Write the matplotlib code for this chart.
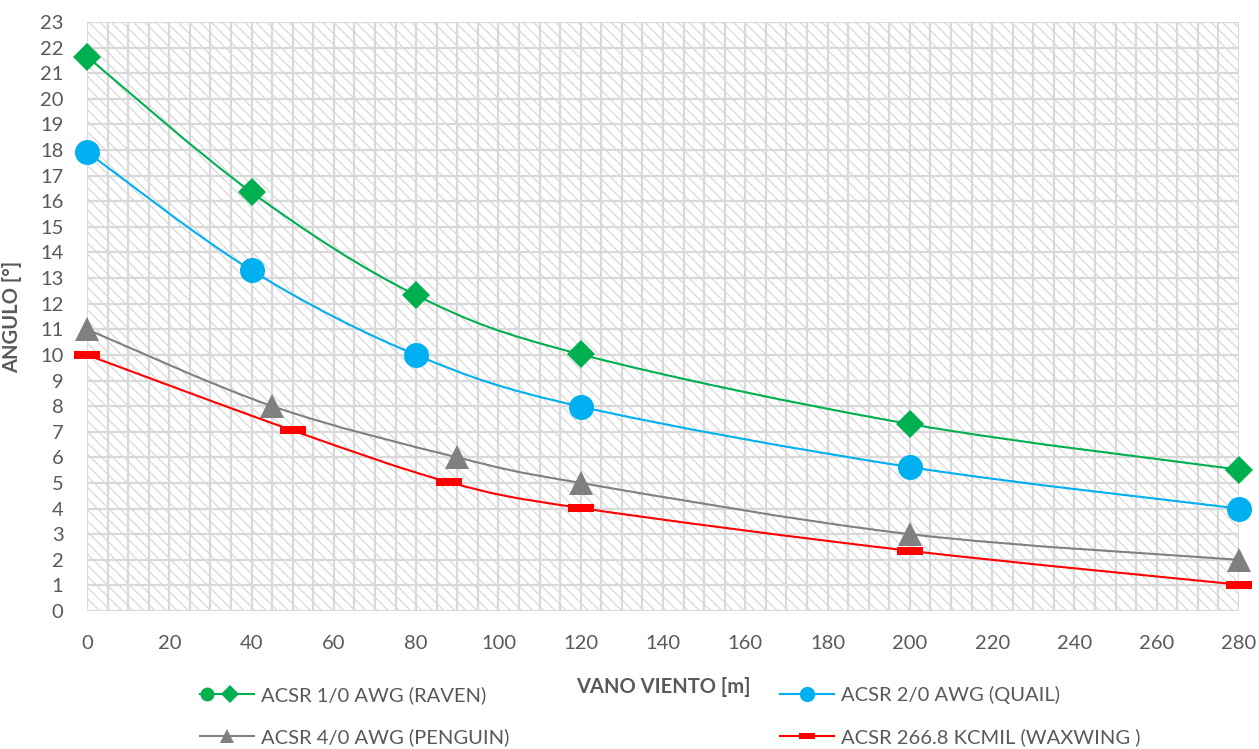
import numpy as np
import matplotlib
matplotlib.use('Agg')
from matplotlib import pyplot as plt
from matplotlib.lines import Line2D
from matplotlib.patches import Rectangle, PathPatch
from matplotlib.path import Path
from matplotlib.ticker import MultipleLocator

plt.rcParams['font.family'] = ['Lato', 'DejaVu Sans']
plt.rcParams['hatch.linewidth'] = 0.9

# data
x_raven = [0, 40, 80, 120, 200, 280]
y_raven = [21.65, 16.35, 12.33, 10.02, 7.3, 5.52]
x_quail = [0, 40, 80, 120, 200, 280]
y_quail = [17.92, 13.3, 10.0, 7.98, 5.62, 4.0]
x_penguin = [0, 45, 90, 120, 200, 280]
y_penguin = [11.0, 8.0, 6.0, 5.0, 3.0, 2.0]
x_waxwing = [0, 50, 88, 120, 200, 280]
y_waxwing = [10.0, 7.05, 5.03, 4.02, 2.35, 1.03]

labels = ['ACSR 1/0 AWG (RAVEN)', 'ACSR 2/0 AWG (QUAIL)',
          'ACSR 4/0 AWG (PENGUIN)', 'ACSR 266.8 KCMIL (WAXWING )']
colors = ['#00b050', '#00b0f0', '#808080', '#ff0000']
txt = '#595959'

dash = [(-1.5, -0.5), (1.5, -0.5), (1.5, 0.5), (-1.5, 0.5), (-1.5, -0.5)]


def smooth_path(xs, ys):
    # Excel style smoothed line: cubic bezier through the points
    p = np.column_stack([xs, ys]).astype(float)
    ext = np.vstack([p[0], p, p[-1]])
    verts = [p[0]]
    codes = [Path.MOVETO]
    for i in range(len(p) - 1):
        p0, p1, p2, p3 = ext[i], ext[i + 1], ext[i + 2], ext[i + 3]
        verts += [p1 + (p2 - p0) / 6, p2 - (p3 - p1) / 6, p2]
        codes += [Path.CURVE4] * 3
    return Path(verts, codes)


fig = plt.figure(figsize=(12.59, 7.49), dpi=100)
ax = fig.add_axes([87 / 1259, 138 / 749, 1152 / 1259, 589 / 749])

ax.add_patch(Rectangle((0, 0), 1, 1, transform=ax.transAxes, facecolor='white',
                       edgecolor='#d9d9d9', hatch='\\\\\\', linewidth=0, zorder=0))

series = [(x_raven, y_raven, 'D', 14), (x_quail, y_quail, 'o', 18),
          (x_penguin, y_penguin, '^', 17), (x_waxwing, y_waxwing, dash, 19)]
for (xs, ys, m, ms), c in zip(series, colors):
    ax.add_patch(PathPatch(smooth_path(xs, ys), fill=False, edgecolor=c,
                           linewidth=1.5, zorder=3))
    ax.plot(xs, ys, linestyle='none', marker=m, markersize=ms, color=c,
            markeredgewidth=0, zorder=4, clip_on=False)

ax.set_xlim(0, 280)
ax.set_ylim(0, 23)
ax.xaxis.set_major_locator(MultipleLocator(20))
ax.xaxis.set_minor_locator(MultipleLocator(5))
ax.yaxis.set_major_locator(MultipleLocator(1))
ax.grid(which='both', color='#d9d9d9', linewidth=1.6, zorder=1)
ax.set_axisbelow(True)
for s in ax.spines.values():
    s.set_visible(False)
ax.tick_params(which='both', length=0, labelsize=14.5, labelcolor=txt)
ax.tick_params(axis='x', pad=17)
ax.tick_params(axis='y', pad=17)

ax.set_xlabel('VANO VIENTO [m]', fontsize=14.5, fontweight='bold', color=txt)
ax.set_ylabel('ANGULO [°]', fontsize=14.5, fontweight='bold', color=txt)
ax.xaxis.set_label_coords(0.5, -0.112)
ax.yaxis.set_label_coords(-0.0565, 0.5)


class RavenHandler:
    def legend_artist(self, legend, orig_handle, fontsize, handlebox):
        x0, y0 = -handlebox.xdescent, -handlebox.ydescent
        w, h = handlebox.width, handlebox.height
        y = y0 + h / 2
        tr = handlebox.get_transform()
        arts = [Line2D([x0, x0 + w], [y, y], color=colors[0], lw=1.5),
                Line2D([x0 + 5], [y], marker='o', ms=10, color=colors[0], mew=0),
                Line2D([x0 + w * 0.55], [y], marker='D', ms=9, color=colors[0], mew=0)]
        for a in arts:
            a.set_transform(tr)
            handlebox.add_artist(a)
        return arts[0]


h_raven = Line2D([], [], color=colors[0])
h_quail = Line2D([], [], color=colors[1], lw=1.5, marker='o', ms=11, mew=0)
h_penguin = Line2D([], [], color=colors[2], lw=1.5, marker='^', ms=10, mew=0)
h_waxwing = Line2D([], [], color=colors[3], lw=1.5, marker=dash, ms=11, mew=0)

leg_kw = dict(frameon=False, fontsize=14.5, handlelength=2.7, handletextpad=0.35,
              labelspacing=1.2, borderpad=0, borderaxespad=0, loc='center left',
              labelcolor=txt)
leg1 = fig.legend([h_raven, h_penguin], [labels[0], labels[2]],
                  bbox_to_anchor=(200 / 1259, 1 - 716 / 749),
                  handler_map={h_raven: RavenHandler()}, **leg_kw)
leg2 = fig.legend([h_quail, h_waxwing], [labels[1], labels[3]],
                  bbox_to_anchor=(780 / 1259, 1 - 716 / 749), **leg_kw)

fig.savefig('out.png', dpi=100)
